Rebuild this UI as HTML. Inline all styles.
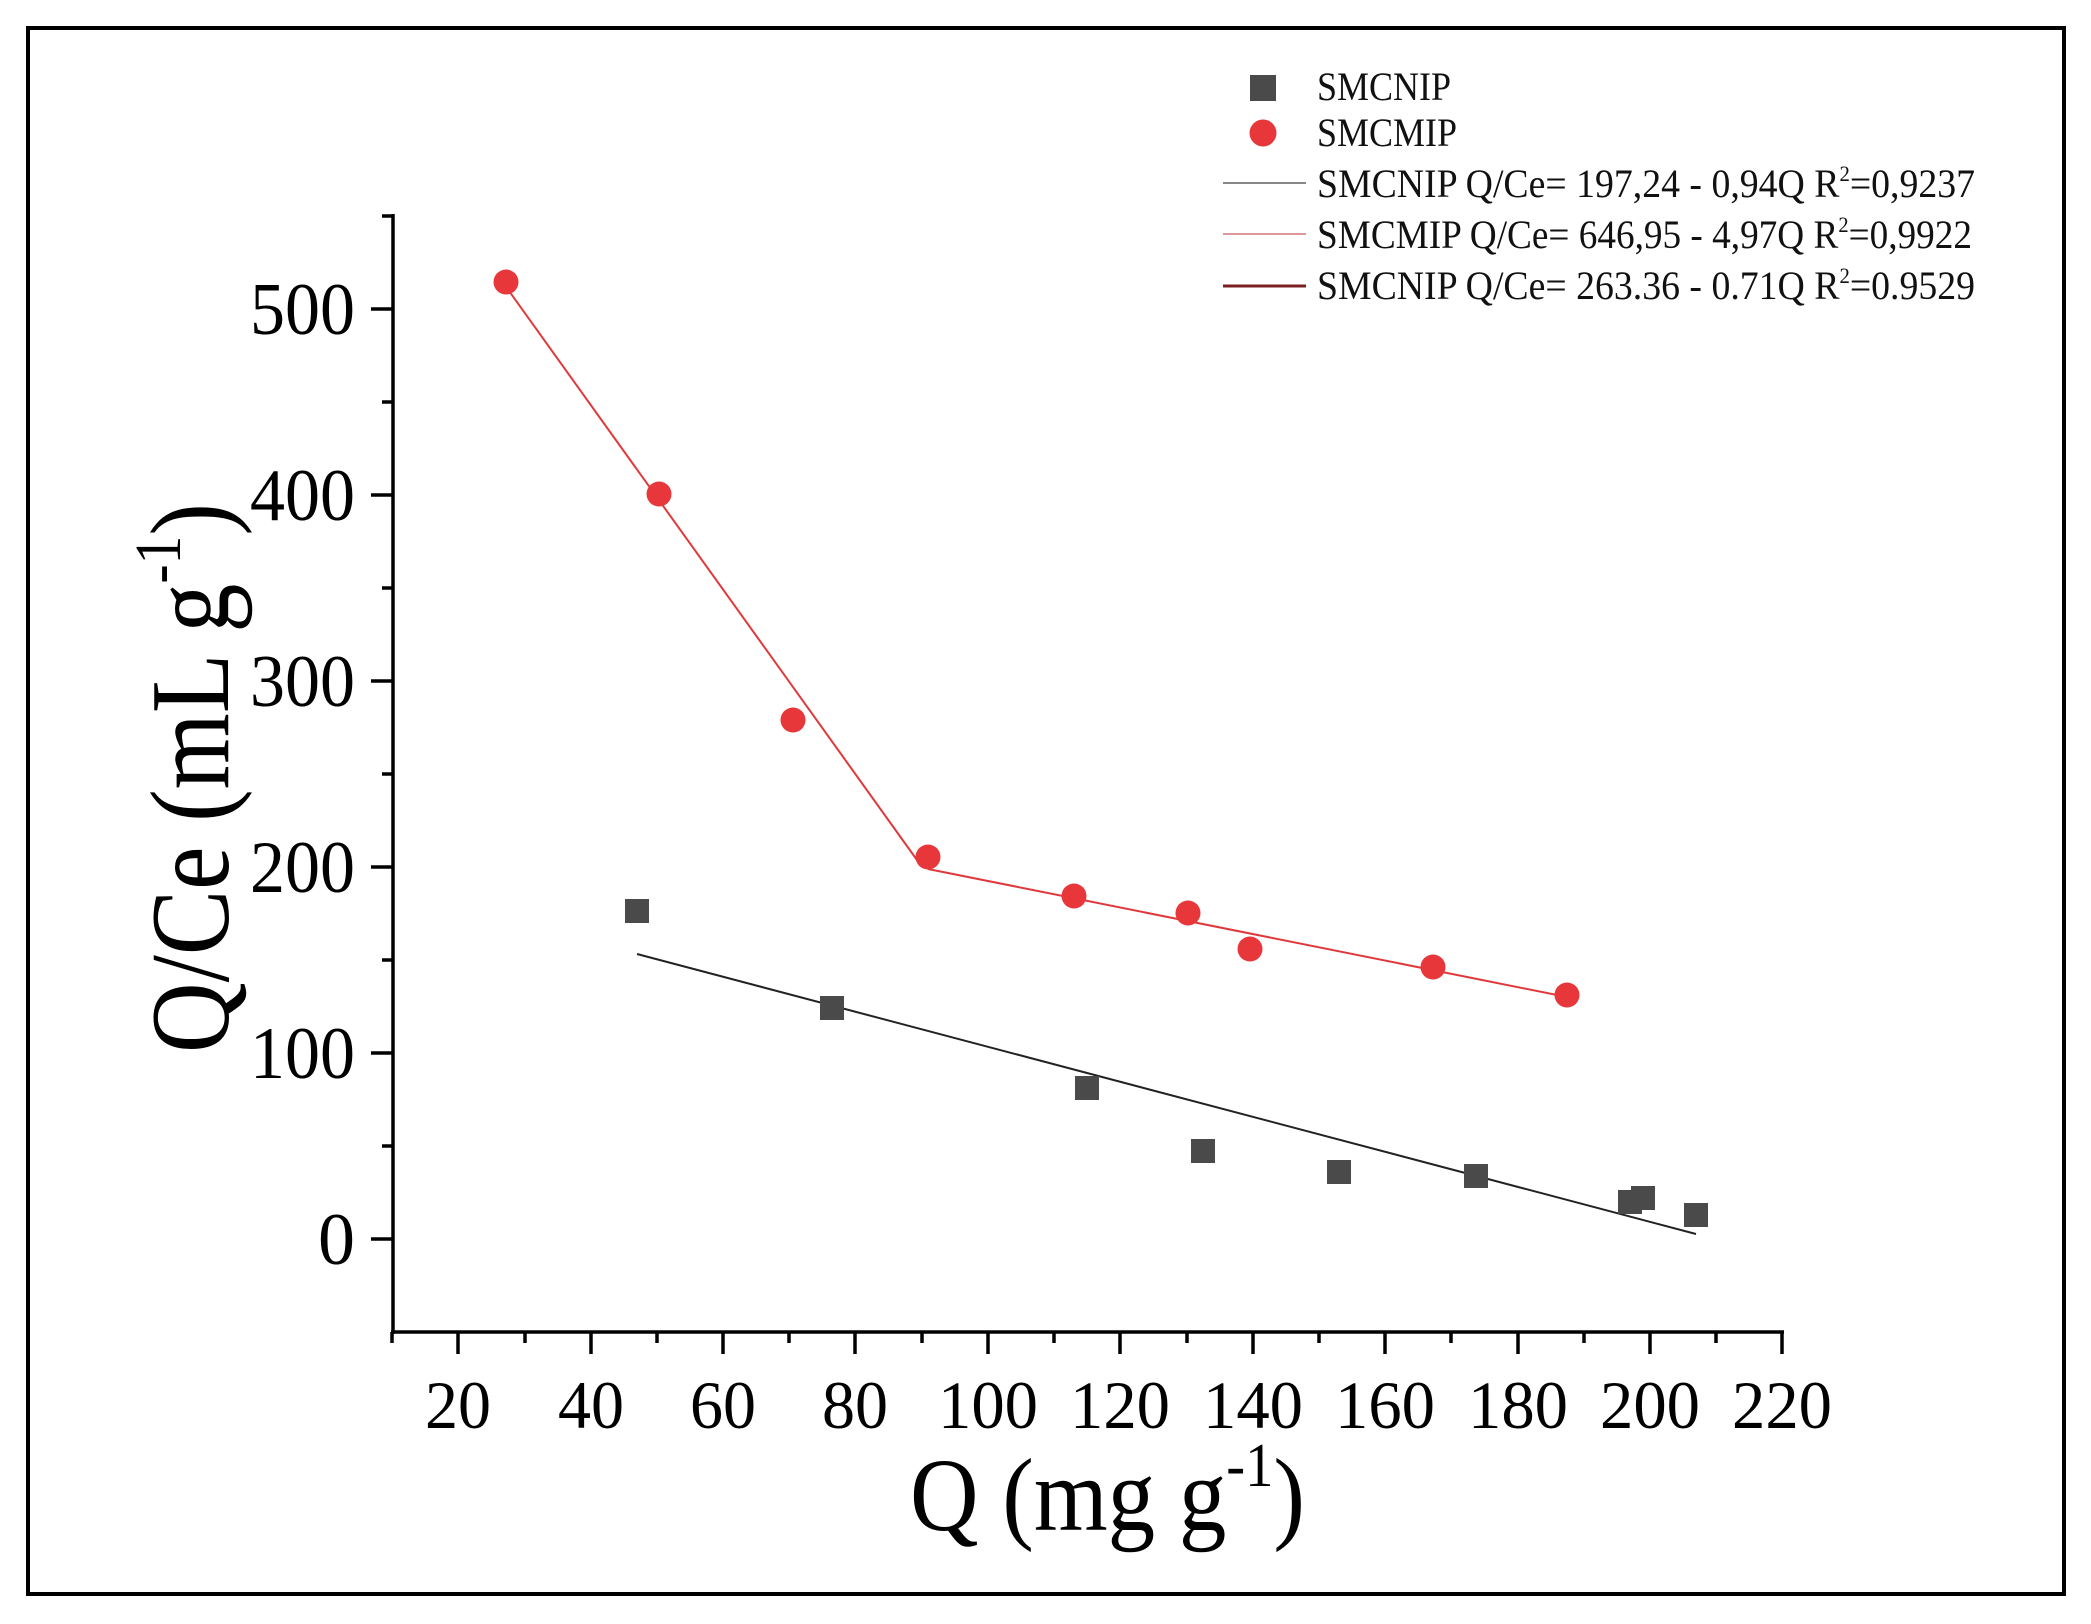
<!DOCTYPE html>
<html><head><meta charset="utf-8"><style>
html,body{margin:0;padding:0;background:#fff;}
svg{display:block;font-family:"Liberation Serif",serif;}
</style></head><body>
<svg width="2091" height="1624" viewBox="0 0 2091 1624" xmlns="http://www.w3.org/2000/svg">
<rect x="0" y="0" width="2091" height="1624" fill="#fff"/>
<rect x="28" y="28" width="2036" height="1566" fill="none" stroke="#000" stroke-width="4"/>
<g stroke="#000" stroke-width="3.5" fill="none">
<line x1="393" y1="214" x2="393" y2="1334"/>
<line x1="391" y1="1332" x2="1784" y2="1332"/>
<line x1="371" y1="1239" x2="393" y2="1239"/>
<line x1="371" y1="1053" x2="393" y2="1053"/>
<line x1="371" y1="867" x2="393" y2="867"/>
<line x1="371" y1="681" x2="393" y2="681"/>
<line x1="371" y1="495" x2="393" y2="495"/>
<line x1="371" y1="309" x2="393" y2="309"/>
<line x1="382" y1="1146" x2="393" y2="1146"/>
<line x1="382" y1="960" x2="393" y2="960"/>
<line x1="382" y1="774" x2="393" y2="774"/>
<line x1="382" y1="588" x2="393" y2="588"/>
<line x1="382" y1="402" x2="393" y2="402"/>
<line x1="382" y1="216" x2="393" y2="216"/>
<line x1="458" y1="1332" x2="458" y2="1354"/>
<line x1="591" y1="1332" x2="591" y2="1354"/>
<line x1="723" y1="1332" x2="723" y2="1354"/>
<line x1="855" y1="1332" x2="855" y2="1354"/>
<line x1="988" y1="1332" x2="988" y2="1354"/>
<line x1="1120" y1="1332" x2="1120" y2="1354"/>
<line x1="1253" y1="1332" x2="1253" y2="1354"/>
<line x1="1385" y1="1332" x2="1385" y2="1354"/>
<line x1="1518" y1="1332" x2="1518" y2="1354"/>
<line x1="1650" y1="1332" x2="1650" y2="1354"/>
<line x1="1782" y1="1332" x2="1782" y2="1354"/>
<line x1="392" y1="1332" x2="392" y2="1343"/>
<line x1="525" y1="1332" x2="525" y2="1343"/>
<line x1="657" y1="1332" x2="657" y2="1343"/>
<line x1="789" y1="1332" x2="789" y2="1343"/>
<line x1="922" y1="1332" x2="922" y2="1343"/>
<line x1="1054" y1="1332" x2="1054" y2="1343"/>
<line x1="1187" y1="1332" x2="1187" y2="1343"/>
<line x1="1319" y1="1332" x2="1319" y2="1343"/>
<line x1="1451" y1="1332" x2="1451" y2="1343"/>
<line x1="1584" y1="1332" x2="1584" y2="1343"/>
<line x1="1716" y1="1332" x2="1716" y2="1343"/>
</g>
<g font-size="74" text-anchor="end" fill="#000">
<text x="355" y="1264">0</text>
<text x="355" y="1078" textLength="105" lengthAdjust="spacingAndGlyphs">100</text>
<text x="355" y="892" textLength="105" lengthAdjust="spacingAndGlyphs">200</text>
<text x="355" y="706" textLength="105" lengthAdjust="spacingAndGlyphs">300</text>
<text x="355" y="520" textLength="105" lengthAdjust="spacingAndGlyphs">400</text>
<text x="355" y="334" textLength="105" lengthAdjust="spacingAndGlyphs">500</text>
</g>
<g font-size="68" fill="#000">
<text x="425" y="1428" textLength="66" lengthAdjust="spacingAndGlyphs">20</text>
<text x="558" y="1428" textLength="66" lengthAdjust="spacingAndGlyphs">40</text>
<text x="690" y="1428" textLength="66" lengthAdjust="spacingAndGlyphs">60</text>
<text x="822" y="1428" textLength="66" lengthAdjust="spacingAndGlyphs">80</text>
<text x="938" y="1428" textLength="100" lengthAdjust="spacingAndGlyphs">100</text>
<text x="1070" y="1428" textLength="100" lengthAdjust="spacingAndGlyphs">120</text>
<text x="1203" y="1428" textLength="100" lengthAdjust="spacingAndGlyphs">140</text>
<text x="1335" y="1428" textLength="100" lengthAdjust="spacingAndGlyphs">160</text>
<text x="1468" y="1428" textLength="100" lengthAdjust="spacingAndGlyphs">180</text>
<text x="1600" y="1428" textLength="100" lengthAdjust="spacingAndGlyphs">200</text>
<text x="1732" y="1428" textLength="100" lengthAdjust="spacingAndGlyphs">220</text>
</g>
<text x="910" y="1530" font-size="104" fill="#000" textLength="395" lengthAdjust="spacingAndGlyphs">Q (mg g<tspan font-size="62" dy="-44">-1</tspan><tspan dy="44">)</tspan></text>
<g transform="translate(228,1053) rotate(-90)">
<text x="0" y="0" font-size="112" fill="#000" textLength="550" lengthAdjust="spacingAndGlyphs">Q/Ce (mL g<tspan font-size="66" dy="-48">-1</tspan><tspan dy="48">)</tspan></text>
</g>
<polyline points="637,954 1696,1234" fill="none" stroke="#222" stroke-width="2"/>
<polyline points="504,284 922,867" fill="none" stroke="#e0393b" stroke-width="2"/>
<polyline points="928,869 1567,997" fill="none" stroke="#e0393b" stroke-width="2"/>
<g fill="#4a4a4a">
<rect x="625" y="899" width="24" height="24"/>
<rect x="820" y="996" width="24" height="24"/>
<rect x="1075" y="1076" width="24" height="24"/>
<rect x="1191" y="1139" width="24" height="24"/>
<rect x="1327" y="1160" width="24" height="24"/>
<rect x="1464" y="1164" width="24" height="24"/>
<rect x="1618" y="1190" width="24" height="24"/>
<rect x="1631" y="1186" width="24" height="24"/>
<rect x="1684" y="1203" width="24" height="24"/>
</g>
<g fill="#e8373a">
<circle cx="506" cy="282" r="12.5"/>
<circle cx="659" cy="494" r="12.5"/>
<circle cx="793" cy="720" r="12.5"/>
<circle cx="928" cy="857" r="12.5"/>
<circle cx="1074" cy="896" r="12.5"/>
<circle cx="1188" cy="913" r="12.5"/>
<circle cx="1250" cy="949" r="12.5"/>
<circle cx="1433" cy="967" r="12.5"/>
<circle cx="1567" cy="995" r="12.5"/>
</g>
<rect x="1250" y="75" width="26" height="26" fill="#4a4a4a"/>
<circle cx="1263" cy="133" r="13.5" fill="#e8373a"/>
<line x1="1223" y1="183" x2="1306" y2="183" stroke="#888" stroke-width="2"/>
<line x1="1223" y1="234" x2="1306" y2="234" stroke="#d99" stroke-width="2"/>
<line x1="1223" y1="286" x2="1306" y2="286" stroke="#7a2020" stroke-width="3"/>
<g font-size="40" fill="#111">
<text x="1317" y="100" textLength="134" lengthAdjust="spacingAndGlyphs">SMCNIP</text>
<text x="1317" y="146" textLength="140" lengthAdjust="spacingAndGlyphs">SMCMIP</text>
<text x="1317" y="197" textLength="658" lengthAdjust="spacingAndGlyphs">SMCNIP Q/Ce= 197,24 - 0,94Q  R<tspan font-size="22" dy="-16">2</tspan><tspan dy="16">=0,9237</tspan></text>
<text x="1317" y="248" textLength="655" lengthAdjust="spacingAndGlyphs">SMCMIP Q/Ce= 646,95 - 4,97Q R<tspan font-size="22" dy="-16">2</tspan><tspan dy="16">=0,9922</tspan></text>
<text x="1317" y="299" textLength="658" lengthAdjust="spacingAndGlyphs">SMCNIP Q/Ce= 263.36 - 0.71Q  R<tspan font-size="22" dy="-16">2</tspan><tspan dy="16">=0.9529</tspan></text>
</g>
</svg>
</body></html>
